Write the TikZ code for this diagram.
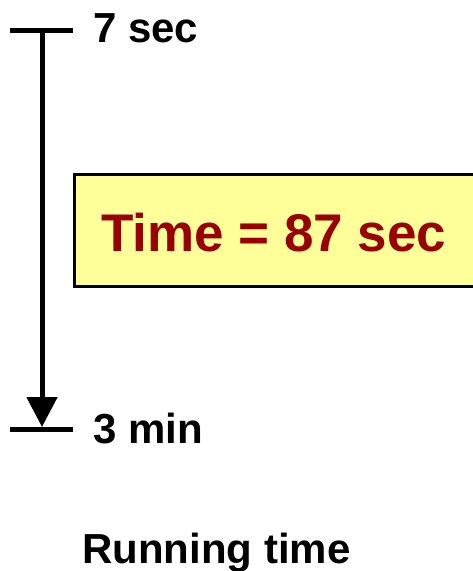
\documentclass[tikz,border=0pt]{standalone}
\usepackage{fontspec}
\setmainfont{Liberation Sans}
\usetikzlibrary{arrows.meta}
\definecolor{boxyellow}{HTML}{FFFF99}
\definecolor{timered}{HTML}{990000}
\begin{document}
\begin{tikzpicture}[x=1pt,y=-1pt,>={Triangle[width=30pt,length=30pt]}]
	\tikzset{every node/.style={font=\fontsize{42}{50}\selectfont\bfseries,inner sep=0pt},
		tickline/.style={line width=5pt}}
	\useasboundingbox (0,0) rectangle (473,571);
	\begin{scope}
		\clip (0,0) rectangle (473,571);
		\filldraw[fill=boxyellow,line width=3pt] (74,174) rectangle (490,286);
	\end{scope}
	\node[anchor=base west,text=timered,font=\fontsize{53}{60}\selectfont\bfseries] (total) at (101,251) {Time = 87 sec};
	\coordinate (topL) at (10,30);
	\coordinate (topR) at (73,30);
	\coordinate (botL) at (10,429);
	\coordinate (botR) at (73,429);
	\coordinate (start) at (42,30);
	\coordinate (stop) at (42,427);
	\draw[tickline] (topL)--(topR);
	\draw[tickline] (botL)--(botR);
	\draw[tickline,->] (start)--(stop);
	\node[anchor=base west] (from) at (93,42) {7 sec};
	\node[anchor=base west] (to) at (93,443) {3 min};
	\node[anchor=base west] (caption) at (82,563) {Running time};
\end{tikzpicture}
\end{document}
